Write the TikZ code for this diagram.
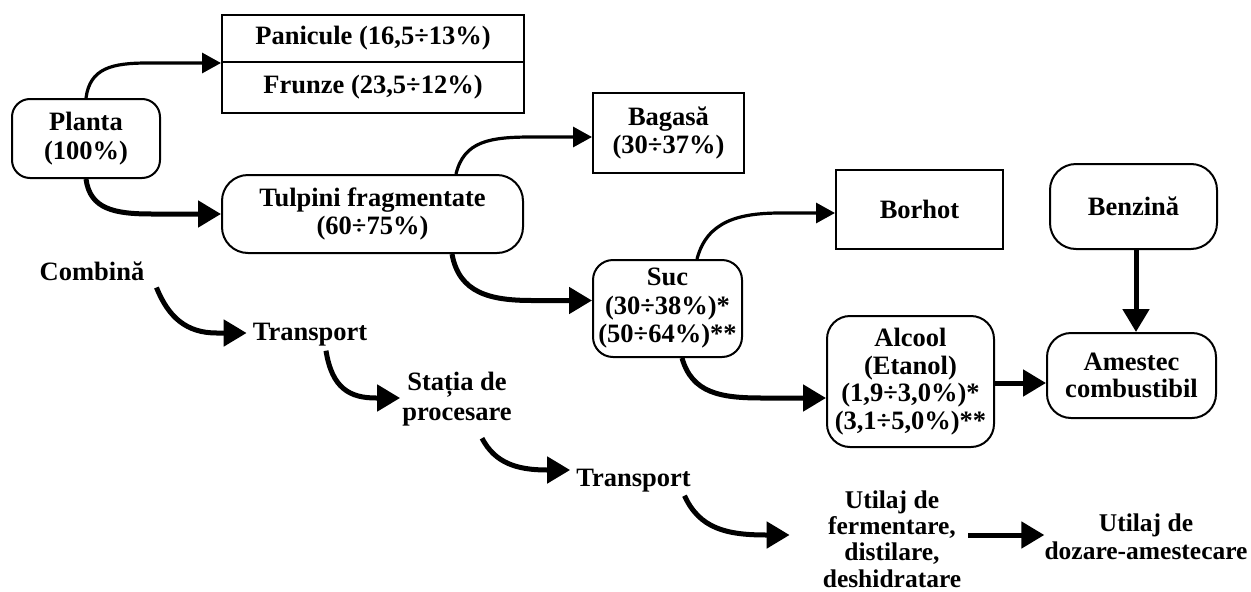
\documentclass[tikz,border=0pt]{standalone}
\usepackage{fontspec}
\setmainfont{Liberation Serif}
\usetikzlibrary{arrows.meta,calc}
\begin{document}
\begin{tikzpicture}[x=1pt,y=-1pt,
  every node/.style={font=\fontsize{26.5}{28.5}\selectfont\bfseries, align=center},
  box/.style={draw, line width=2pt, inner sep=2pt},
  rbox/.style={box, rounded corners=#1},
  lbl/.style={inner sep=4pt},
  arrA/.style={line width=3.2pt, -{Triangle[length=19pt,width=20pt]}},
  arrB/.style={line width=5pt, -{Triangle[length=23pt,width=26pt]}}
]
\useasboundingbox (0,0) rectangle (1251,592);

% boxes
\node[rbox=18pt, minimum width=148pt, minimum height=79pt] (planta) at (86,138.5) {Planta\\(100\%)};
\node[box, minimum width=302pt, minimum height=47pt] (pan) at (373,38.5) {Panicule (16,5÷13\%)};
\node[box, minimum width=302pt, minimum height=51pt] (fr) at (373,87.5) {Frunze (23,5÷12\%)};
\node[rbox=26pt, minimum width=301pt, minimum height=78pt] (tulp) at (372.5,214) {Tulpini fragmentate\\(60÷75\%)};
\node[box, minimum width=151pt, minimum height=80pt] (bag) at (668.5,133) {Bagasă\\(30÷37\%)};
\node[rbox=20pt, minimum width=149pt, minimum height=97pt] (suc) at (667.5,308.5) {Suc\\(30÷38\%)*\\(50÷64\%)**};
\node[box, minimum width=167pt, minimum height=79pt] (borhot) at (919.5,209.5) {Borhot};
\node[rbox=26pt, minimum width=167pt, minimum height=85pt] (benz) at (1133.5,206.5) {Benzină};
\node[rbox=23pt, minimum width=167pt, minimum height=131pt, font=\fontsize{26.5}{27.7}\selectfont\bfseries] (alc) at (910.5,381.5) {Alcool\\(Etanol)\\(1,9÷3,0\%)*\\(3,1÷5,0\%)**};
\node[rbox=24pt, minimum width=169pt, minimum height=85pt, font=\fontsize{26.5}{27}\selectfont\bfseries] (ame) at (1131.5,375.5) {Amestec\\combustibil};

% process chain labels
\node[lbl] (combina) at (92,271.5) {Combină};
\node[lbl] (tr1) at (310,335) {Transport};
\node[lbl, font=\fontsize{26.5}{30}\selectfont\bfseries] (statia) at (457,399) {Stația de\\procesare};
\node[lbl] (tr2) at (633.5,481) {Transport};
\node[lbl, font=\fontsize{25.5}{26.3}\selectfont\bfseries] (util1) at (892,539) {Utilaj de\\fermentare,\\distilare,\\deshidratare};
\node[lbl, font=\fontsize{25.5}{28}\selectfont\bfseries] (util2) at (1146,537) {Utilaj de\\dozare-amestecare};

% upper flow
\draw[arrA] (planta.north) .. controls +(4,-30) and +(-36,0) .. ($(planta.north |- pan.south west)+(62,0)$) -- (pan.south west);
\draw[arrB] (planta.south) .. controls +(4,30) and +(-38,0) .. ($(planta.south |- tulp.west)+(66,0)$) -- (tulp.west);
\draw[arrA] ($(tulp.north west)+(235,0)$) .. controls +(8,-33) and +(-42,0) .. ($(bag.west)+(-60,4)$) -- ($(bag.west)+(0,4)$);
\draw[arrB] ($(tulp.south west)+(231,0)$) .. controls +(7,39) and +(-42,0) .. ($(suc.west)+(-60,-8)$) -- ($(suc.west)+(0,-8)$);
\draw[arrA] ($(suc.north west)+(105,0)$) .. controls +(10,-38) and +(-42,0) .. ($(borhot.west)+(-54,3.5)$) -- ($(borhot.west)+(0,3.5)$);
\draw[arrB] ($(suc.south west)+(90,0)$) .. controls +(10,35) and +(-42,0) .. ($(alc.west)+(-64,16.5)$) -- ($(alc.west)+(0,16.5)$);
\draw[arrB] ($(alc.east)+(0,1.5)$) -- ($(ame.west)+(0,7.5)$);
\draw[arrB] ($(benz.south)+(2.5,0)$) -- ($(ame.north)+(4.5,0)$);

% lower chain
\draw[arrB] ($(combina.east)+(8,16)$) .. controls +(12,30) and +(-30,0) .. ($(tr1.west)+(-32,-2)$) -- ($(tr1.west)+(-2,-2)$);
\draw[arrB] ($(tr1.south)+(16,0)$) .. controls +(6,38) and +(-26,0) .. ($(statia.west)+(-22,-1)$) -- ($(statia.west)+(2,-1)$);
\draw[arrB] ($(statia.south)+(25,8)$) .. controls +(13,25) and +(-30,0) .. ($(tr2.west)+(-25,-11)$) -- ($(tr2.west)+(-2,-11)$);
\draw[arrB] ($(tr2.south)+(51,-1)$) .. controls +(15,33) and +(-40,0) .. ($(util1.west)+(-52,-4)$) -- ($(util1.west)+(-29,-4)$);
\draw[arrB] ($(util1.east)+(3,-4)$) -- ($(util2.west)+(4,-2)$);
\end{tikzpicture}
\end{document}
